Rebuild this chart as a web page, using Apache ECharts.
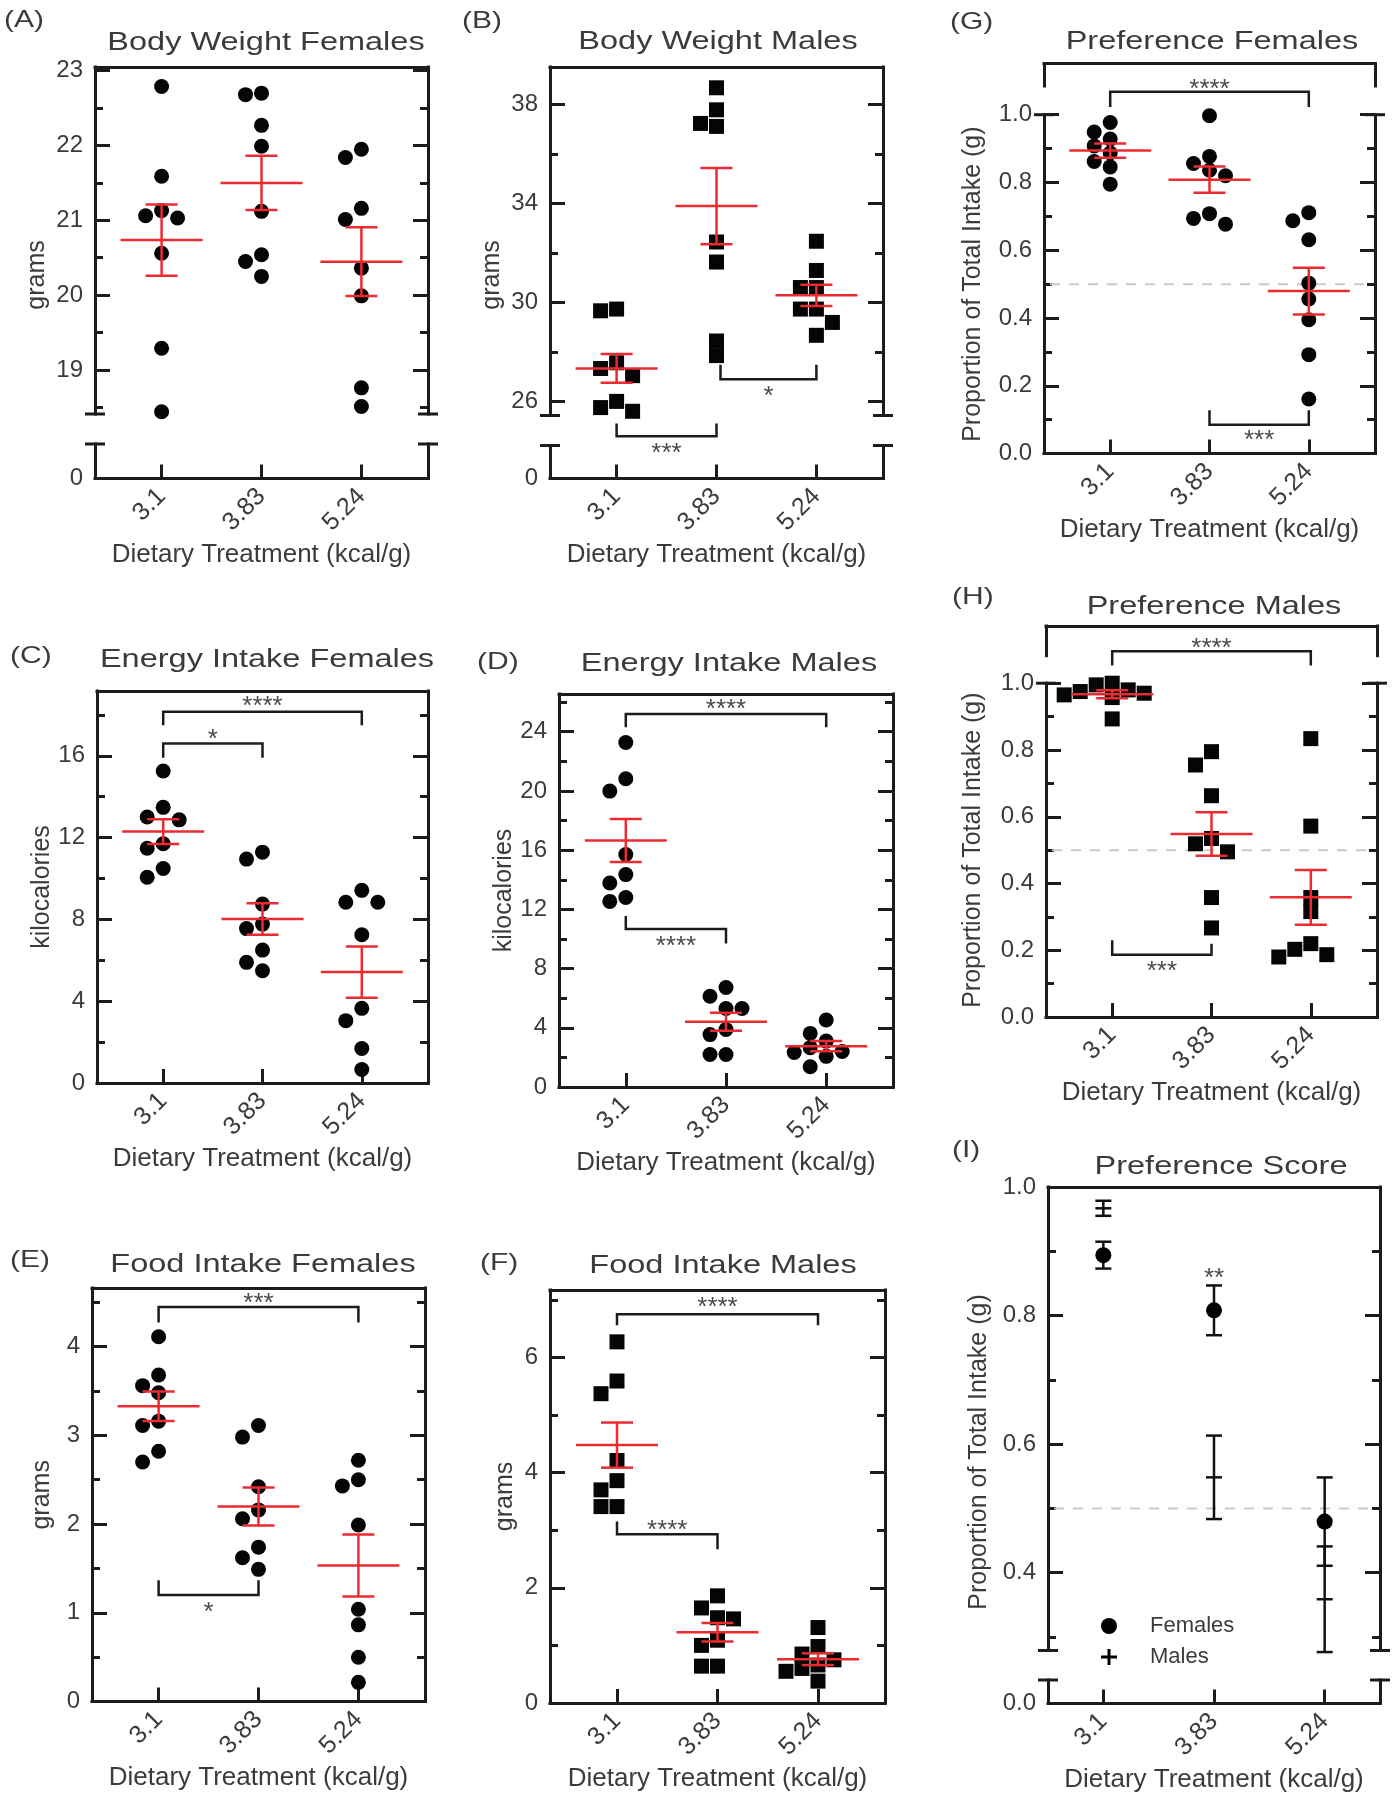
<!DOCTYPE html>
<html><head><meta charset="utf-8">
<script src="https://cdn.jsdelivr.net/npm/echarts@6/dist/echarts.min.js"></script>
<style>html,body{margin:0;padding:0;background:#fff}#c{width:1392px;height:1800px}</style>
</head><body><div id="c"></div>
<script>
// ---------------- DATA ----------------
const categories = ['3.1', '3.83', '5.24'];
const xAxisName = 'Dietary Treatment (kcal/g)';

// (A) Body weight females, grams
const bodyWeightFemales = [
  [22.79, 21.59, 21.13, 21.03, 21.06, 20.56, 19.29, 18.44],
  [22.70, 22.68, 22.27, 21.99, 21.12, 20.54, 20.45, 20.25],
  [21.84, 21.95, 21.16, 21.01, 20.36, 19.99, 18.76, 18.51]
];
// (B) Body weight males, grams
const bodyWeightMales = [
  [29.66, 29.73, 27.56, 27.33, 27.04, 26.00, 25.60, 25.75],
  [38.67, 37.78, 37.11, 37.23, 32.44, 31.63, 27.85, 28.44],
  [32.47, 31.29, 30.60, 30.60, 29.73, 29.73, 29.19, 28.67]
];
// (C) Energy intake females, kcal
const energyFemales = [
  [15.26, 13.48, 13.01, 12.87, 11.70, 11.48, 10.49, 10.06],
  [11.29, 10.95, 8.75, 7.55, 7.77, 6.50, 5.90, 5.49],
  [9.42, 8.84, 8.84, 7.25, 3.65, 3.05, 1.69, 0.66]
];
// (D) Energy intake males, kcal
const energyMales = [
  [23.27, 20.82, 19.99, 15.71, 14.35, 13.78, 12.80, 12.54],
  [6.72, 6.13, 5.30, 5.30, 3.88, 3.54, 2.20, 2.20],
  [4.53, 3.62, 3.10, 2.66, 2.40, 2.07, 2.33, 1.37]
];
// (E) Food intake females, grams
const foodFemales = [
  [4.11, 3.68, 3.56, 3.48, 3.16, 3.11, 2.82, 2.70],
  [3.11, 2.98, 2.42, 2.16, 2.06, 1.74, 1.62, 1.49],
  [2.72, 2.50, 2.43, 1.99, 1.04, 0.865, 0.50, 0.217]
];
// (F) Food intake males, grams
const foodMales = [
  [6.27, 5.59, 5.37, 4.21, 3.86, 3.70, 3.41, 3.41],
  [1.86, 1.65, 1.46, 1.48, 1.09, 1.00, 0.64, 0.64],
  [1.31, 0.98, 0.85, 0.75, 0.66, 0.60, 0.55, 0.38]
];
// (G) Preference females, proportion of total intake
const preferenceFemales = [
  [0.977, 0.949, 0.928, 0.908, 0.887, 0.862, 0.846, 0.795],
  [0.997, 0.877, 0.856, 0.836, 0.820, 0.677, 0.708, 0.694],
  [0.711, 0.687, 0.631, 0.503, 0.456, 0.395, 0.292, 0.161]
];
// (H) Preference males, proportion of total intake
const preferenceMales = [
  [0.995, 0.970, 1.000, 0.980, 0.957, 0.975, 0.965, 0.893],
  [0.795, 0.755, 0.663, 0.535, 0.495, 0.519, 0.358, 0.267],
  [0.834, 0.572, 0.358, 0.316, 0.203, 0.187, 0.220, 0.180]
];

// tick labels / tick values
const yLabelsA = [19, 20, 21, 22, 23];          const yMinorA = [18.5, 19.5, 20.5, 21.5, 22.5];
const yLabelsB = [26, 30, 34, 38];              const yMinorB = [28, 32, 36];
const yLabelsC = [0, 4, 8, 12, 16];             const yMinorC = [2, 6, 10, 14, 18];
const yLabelsD = [0, 4, 8, 12, 16, 20, 24];     const yMinorD = [2, 6, 10, 14, 18, 22, 26];
const yLabelsE = [0, 1, 2, 3, 4];               const yMinorE = [0.5, 1.5, 2.5, 3.5, 4.5];
const yLabelsF = [0, 2, 4, 6];                  const yMinorF = [1, 3, 5, 7];
const yLabelsPref = [0, 0.2, 0.4, 0.6, 0.8, 1.0]; const yMinorPref = [0.1, 0.3, 0.5, 0.7, 0.9];
const yLabelsI = [0.4, 0.6, 0.8, 1.0];          const yMinorI = [0.3, 0.5, 0.7, 0.9];
const zeroLabel = [0];
const chanceLevel = 0.5;

// significance annotations (data units of each panel)
const sigB = [
  {from: 0, to: 1, y: 24.59, tips: [25.11, 25.11], label: '***', labelY: 24.07},
  {from: 1.04, to: 2, y: 26.89, tips: [27.48, 27.48], label: '*', labelY: 26.37}
];
const sigC = [
  {from: 0, to: 2, y: 18.16, tips: [17.5, 17.5], label: '****', labelY: 18.63},
  {from: 0, to: 1, y: 16.6, tips: [15.9, 15.9], label: '*', labelY: 17.04}
];
const sigD = [
  {from: 0, to: 2, y: 25.2, tips: [24.3, 24.3], label: '****', labelY: 25.8},
  {from: 0, to: 1, y: 10.68, tips: [11.56, 9.7], label: '****', labelY: 9.83}
];
const sigE = [
  {from: 0, to: 2, y: 4.447, tips: [4.27, 4.27], label: '***', labelY: 4.54},
  {from: 0, to: 1, y: 1.2, tips: [1.367, 1.367], label: '*', labelY: 1.053}
];
const sigF = [
  {from: 0, to: 2, y: 6.75, tips: [6.56, 6.56], label: '****', labelY: 6.95},
  {from: 0, to: 1, y: 2.93, tips: [3.15, 2.67], label: '****', labelY: 3.07}
];
const sigG = [
  {from: 0, to: 2, y: 1.0676, tips: [1.023, 1.023], label: '****', labelY: 1.087},
  {from: 1, to: 2, y: 0.085, tips: [0.128, 0.128], label: '***', labelY: 0.051}
];
const sigH = [
  {from: 0, to: 2, y: 1.096, tips: [1.053, 1.053], label: '****', labelY: 1.118},
  {from: 0, to: 1, y: 0.187, tips: [0.23, 0.22], label: '***', labelY: 0.15}
];
const sigI = [{at: 1, labelY: 0.865, label: '**'}];

// ---------------- STYLE ----------------
const LINE = '#1c1c1c', TEXT = '#3b3b3b', RED = '#ec2b30', DOT = '#050505';
const FONT = "'Liberation Sans', Arial, sans-serif";
const LW = 3;
const X3 = [-2 / 3, 8 / 3];
const fmtInt = v => String(Math.round(v * 100) / 100);
const fmt1 = v => v.toFixed(1);

// ---------------- HELPERS ----------------
function meanSem(a) {
  const n = a.length;
  const m = a.reduce((s, v) => s + v, 0) / n;
  const sd = Math.sqrt(a.reduce((s, v) => s + (v - m) * (v - m), 0) / (n - 1));
  return [m, sd / Math.sqrt(n)];
}
// simple beeswarm: horizontal pixel offsets so that dots do not overlap
function swarmOffsets(vals, pxPerUnit, sym) {
  const order = vals.map((v, i) => i).sort((a, b) => vals[b] - vals[a]);
  const placed = [], out = new Array(vals.length).fill(0);
  const step = sym + 1, thr = sym * 0.92;
  const cands = [0, -1, 1, -2, 2, -3, 3, -4, 4];
  for (const i of order) {
    const y = vals[i] * pxPerUnit;
    for (const c of cands) {
      const x = c * step;
      if (placed.every(p => Math.hypot(p.x - x, p.y - y) >= thr)) { out[i] = x; placed.push({x, y}); break; }
    }
  }
  return out;
}
function semRenderer(color, half, cap, lw) {
  return function (params, api) {
    const x = api.value(0), m = api.value(1), se = api.value(2);
    const c = api.coord([x, m]), hi = api.coord([x, m + se]), lo = api.coord([x, m - se]);
    const st = {stroke: color, lineWidth: lw};
    const ch = [
      {type: 'line', shape: {x1: c[0], y1: hi[1], x2: c[0], y2: lo[1]}, style: st},
      {type: 'line', shape: {x1: c[0] - cap, y1: hi[1], x2: c[0] + cap, y2: hi[1]}, style: st},
      {type: 'line', shape: {x1: c[0] - cap, y1: lo[1], x2: c[0] + cap, y2: lo[1]}, style: st}
    ];
    if (half > 0) ch.push({type: 'line', shape: {x1: c[0] - half, y1: c[1], x2: c[0] + half, y2: c[1]}, style: st});
    return {type: 'group', children: ch};
  };
}
function decorRenderer(items, P) {
  return function (params, api) {
    const it = items[params.dataIndex];
    if (it.kind === 'break') {
      const p = api.coord([it.side ? P.xr[1] : P.xr[0], it.y]);
      return {type: 'line', shape: {x1: p[0] - 10, y1: p[1], x2: p[0] + 10, y2: p[1]}, style: {stroke: LINE, lineWidth: LW}};
    }
    if (it.kind === 'dash') {
      const a = api.coord([P.xr[0], it.y]), b = api.coord([P.xr[1], it.y]);
      return {type: 'line', shape: {x1: a[0] + 6, y1: a[1], x2: b[0] - 4, y2: b[1]},
        style: {stroke: '#c9c9c9', lineWidth: 2, lineDash: [10, 9]}};
    }
    if (it.kind === 'bracket') {
      const p0 = api.coord([it.from, it.tips[0]]), p1 = api.coord([it.from, it.y]);
      const p2 = api.coord([it.to, it.y]), p3 = api.coord([it.to, it.tips[1]]);
      const t = api.coord([(it.from + it.to) / 2, it.labelY]);
      return {type: 'group', children: [
        {type: 'polyline', shape: {points: [p0, p1, p2, p3]}, style: {stroke: LINE, lineWidth: 2.5, fill: 'none'}},
        {type: 'text', x: t[0], y: t[1] + 5, style: {text: it.label, fill: '#4a4a4a', font: '26px ' + FONT, align: 'center', verticalAlign: 'middle'}}
      ]};
    }
    if (it.kind === 'label') {
      const t = api.coord([it.at, it.labelY]);
      return {type: 'text', x: t[0], y: t[1] + 5, style: {text: it.label, fill: '#4a4a4a', font: '26px ' + FONT, align: 'center', verticalAlign: 'middle'}};
    }
    return null;
  };
}

const option = {
  animation: false, backgroundColor: '#fff',
  grid: [], xAxis: [], yAxis: [], series: [], graphic: [],
  legend: {
    data: [
      {name: 'Females', icon: 'circle'},
      {name: 'Males', icon: 'path://M6.5,0H9.5V6.5H16V9.5H9.5V16H6.5V9.5H0V6.5H6.5Z'}
    ],
    orient: 'vertical', left: 1096, top: 1610, itemWidth: 16, itemHeight: 16, itemGap: 9,
    selectedMode: false, itemStyle: {color: '#000', opacity: 1},
    textStyle: {color: TEXT, fontSize: 22, fontFamily: FONT, padding: [0, 0, 0, 28]}
  }
};

function buildSeg(P, s) {
  const gi = option.grid.length;
  option.grid.push({left: P.l, top: s.top, width: P.r - P.l, height: s.bottom - s.top});
  const line = {color: LINE, width: LW, cap: 'square'};
  const tickLine = {color: LINE, width: LW};
  const xi = option.xAxis.length;
  const ax = {type: 'value', gridIndex: gi, min: P.xr[0], max: P.xr[1], splitLine: {show: false}};
  option.xAxis.push(Object.assign({}, ax, {
    position: 'bottom',
    axisLine: {show: !!s.bottomLine, onZero: false, lineStyle: line},
    axisTick: {show: !!s.bottomAxis, inside: true, length: 14, customValues: [0, 1, 2], lineStyle: tickLine},
    axisLabel: {show: !!s.bottomAxis, customValues: [0, 1, 2], rotate: 45, margin: 14, color: TEXT,
      fontFamily: FONT, fontSize: 25, formatter: v => categories[Math.round(v)]},
    name: s.bottomAxis ? xAxisName : '', nameLocation: 'middle', nameGap: 63,
    nameTextStyle: {color: TEXT, fontFamily: FONT, fontSize: 26}
  }));
  option.xAxis.push(Object.assign({}, ax, {
    position: 'top', axisLine: {show: !!s.topLine, onZero: false, lineStyle: line},
    axisTick: {show: false}, axisLabel: {show: false}
  }));
  const yi = option.yAxis.length;
  const ay = {type: 'value', gridIndex: gi, min: s.min, max: s.max, splitLine: {show: false}};
  const lab = s.labels || [], maj = s.major || [], mnr = s.minor || [];
  const tick = (vals, len) => vals.length ? {show: true, inside: true, length: len, customValues: vals, lineStyle: tickLine} : {show: false};
  const left = Object.assign({}, ay, {
    position: 'left', axisLine: {show: true, onZero: false, lineStyle: line},
    axisTick: tick(maj, 15),
    axisLabel: lab.length ? {show: true, customValues: lab, margin: 12, color: TEXT, fontFamily: FONT, fontSize: 24, formatter: P.fmt} : {show: false}
  });
  if (s.yName) {
    Object.assign(left, {name: s.yName, nameLocation: 'middle', nameGap: s.yGap, nameRotate: 90,
      nameTextStyle: {color: TEXT, fontFamily: FONT, fontSize: 25}});
  }
  option.yAxis.push(left);
  option.yAxis.push(Object.assign({}, ay, {position: 'left', axisLine: {show: false, onZero: false}, axisTick: tick(mnr, 8), axisLabel: {show: false}}));
  option.yAxis.push(Object.assign({}, ay, {position: 'right', axisLine: {show: true, onZero: false, lineStyle: line}, axisTick: tick(maj, 15), axisLabel: {show: false}}));
  option.yAxis.push(Object.assign({}, ay, {position: 'right', axisLine: {show: false, onZero: false}, axisTick: tick(mnr, 8), axisLabel: {show: false}}));
  s.gi = gi; s.xi = xi; s.yi = yi;

  // break marks on this segment
  const items = [];
  (s.breaks || []).forEach(b => {
    const y = b === 'top' ? s.max : s.min;
    items.push({kind: 'break', side: 0, y}, {kind: 'break', side: 1, y});
  });
  if (items.length) addDecor(P, s, items, 6);
}
function addDecor(P, s, items, z) {
  option.series.push({
    type: 'custom', xAxisIndex: s.xi, yAxisIndex: s.yi, z, silent: true, clip: false,
    data: items.map(() => [0, 0]), renderItem: decorRenderer(items, P)
  });
}
function buildPanel(P) {
  P.segs.forEach(s => buildSeg(P, s));
  const m = P.segs.find(s => s.main);
  if (P.dash != null) addDecor(P, m, [{kind: 'dash', y: P.dash}], 1);
  if (P.values) {
    const xPerPx = (P.xr[1] - P.xr[0]) / (P.r - P.l);
    const pxPerUnit = (m.bottom - m.top) / (m.max - m.min);
    const pts = [];
    P.values.forEach((grp, ci) => {
      const offs = swarmOffsets(grp, pxPerUnit, P.size);
      grp.forEach((v, k) => pts.push([ci + offs[k] * xPerPx, v]));
    });
    option.series.push({type: 'scatter', xAxisIndex: m.xi, yAxisIndex: m.yi, symbol: P.symbol, symbolSize: P.size,
      itemStyle: {color: DOT, opacity: 1}, data: pts, z: 3, silent: true});
    option.series.push({type: 'custom', xAxisIndex: m.xi, yAxisIndex: m.yi, z: 5, silent: true, clip: false,
      data: P.values.map((g, ci) => [ci].concat(meanSem(g))), renderItem: semRenderer(RED, 41, 16, 2.5)});
  }
  if (P.sig && P.sig.length) addDecor(P, m, P.sig.map(b => Object.assign({kind: b.from != null ? 'bracket' : 'label'}, b)), 6);
  // title & panel letter
  option.graphic.push({type: 'text', x: P.tc[0], y: P.tc[1], scaleX: 1.3, silent: true,
    style: {text: P.title, fill: TEXT, font: '25px ' + FONT, align: 'center', verticalAlign: 'middle'}});
  option.graphic.push({type: 'text', x: P.lc[0], y: P.lc[1], scaleX: 1.25, silent: true,
    style: {text: P.letter, fill: TEXT, font: '24px ' + FONT, align: 'left', verticalAlign: 'middle'}});
  if (P.yNamePos) {
    option.graphic.push({type: 'text', x: P.yNamePos[0], y: P.yNamePos[1], rotation: Math.PI / 2, silent: true,
      style: {text: P.yName, fill: TEXT, font: '25px ' + FONT, align: 'center', verticalAlign: 'middle'}});
  }
  return m;
}

// ---------------- PANELS (layout) ----------------
buildPanel({l: 95, r: 428, xr: X3, values: bodyWeightFemales, symbol: 'circle', size: 15, fmt: fmtInt,
  title: 'Body Weight Females', tc: [266, 43], letter: '(A)', lc: [4, 20], yName: 'grams', yNamePos: [37, 275],
  segs: [
    {top: 67, bottom: 414, min: 18.41, max: 23.05, labels: yLabelsA, major: yLabelsA, minor: yMinorA, topLine: true, main: true, breaks: ['bottom']},
    {top: 444, bottom: 478.5, min: 0, max: 0.461, labels: zeroLabel, bottomLine: true, bottomAxis: true, breaks: ['top']}
  ]});
buildPanel({l: 550, r: 883, xr: X3, values: bodyWeightMales, symbol: 'rect', size: 15, fmt: fmtInt, sig: sigB,
  title: 'Body Weight Males', tc: [718, 42.5], letter: '(B)', lc: [462, 21], yName: 'grams', yNamePos: [492, 275],
  segs: [
    {top: 67, bottom: 415.5, min: 25.43, max: 39.51, labels: yLabelsB, major: yLabelsB, minor: yMinorB, topLine: true, main: true, breaks: ['bottom']},
    {top: 445.5, bottom: 478.5, min: 0, max: 1.33, labels: zeroLabel, bottomLine: true, bottomAxis: true, breaks: ['top']}
  ]});
buildPanel({l: 1044, r: 1375, xr: X3, values: preferenceFemales, symbol: 'circle', size: 15, fmt: fmt1, sig: sigG, dash: chanceLevel,
  title: 'Preference Females', tc: [1212, 42], letter: '(G)', lc: [950, 22],
  segs: [
    {top: 114.7, bottom: 453.6, min: 0, max: 1, labels: yLabelsPref, major: yLabelsPref, minor: yMinorPref, bottomLine: true, bottomAxis: true,
      main: true, breaks: ['top'], yName: 'Proportion of Total Intake (g)', yGap: 58},
    {top: 63.6, bottom: 86, min: 1.085, max: 1.151, topLine: true}
  ]});
buildPanel({l: 97, r: 428, xr: X3, values: energyFemales, symbol: 'circle', size: 15, fmt: fmtInt, sig: sigC,
  title: 'Energy Intake Females', tc: [267, 660], letter: '(C)', lc: [10, 656],
  segs: [{top: 691, bottom: 1083, min: 0, max: 19.17, labels: yLabelsC, major: yLabelsC, minor: yMinorC, topLine: true, bottomLine: true,
    bottomAxis: true, main: true, yName: 'kilocalories', yGap: 38}]});
buildPanel({l: 559, r: 893, xr: X3, values: energyMales, symbol: 'circle', size: 15, fmt: fmtInt, sig: sigD,
  title: 'Energy Intake Males', tc: [729, 664], letter: '(D)', lc: [477, 662],
  segs: [{top: 694, bottom: 1087, min: 0, max: 26.55, labels: yLabelsD, major: yLabelsD, minor: yMinorD, topLine: true, bottomLine: true,
    bottomAxis: true, main: true, yName: 'kilocalories', yGap: 42}]});
buildPanel({l: 1046, r: 1377, xr: X3, values: preferenceMales, symbol: 'rect', size: 15, fmt: fmt1, sig: sigH, dash: chanceLevel,
  title: 'Preference Males', tc: [1214, 607], letter: '(H)', lc: [952, 597],
  segs: [
    {top: 683.2, bottom: 1017.1, min: 0, max: 1, labels: yLabelsPref, major: yLabelsPref, minor: yMinorPref, bottomLine: true, bottomAxis: true,
      main: true, breaks: ['top'], yName: 'Proportion of Total Intake (g)', yGap: 60},
    {top: 626, bottom: 655.7, min: 1.082, max: 1.171, topLine: true}
  ]});
buildPanel({l: 92, r: 425, xr: X3, values: foodFemales, symbol: 'circle', size: 15, fmt: fmtInt, sig: sigE,
  title: 'Food Intake Females', tc: [263, 1265], letter: '(E)', lc: [10, 1260],
  segs: [{top: 1288, bottom: 1701.6, min: 0, max: 4.66, labels: yLabelsE, major: yLabelsE, minor: yMinorE, topLine: true, bottomLine: true,
    bottomAxis: true, main: true, yName: 'grams', yGap: 37}]});
buildPanel({l: 550, r: 885, xr: X3, values: foodMales, symbol: 'rect', size: 15, fmt: fmtInt, sig: sigF,
  title: 'Food Intake Males', tc: [723, 1266], letter: '(F)', lc: [480, 1263],
  segs: [{top: 1290, bottom: 1703, min: 0, max: 7.17, labels: yLabelsF, major: yLabelsF, minor: yMinorF, topLine: true, bottomLine: true,
    bottomAxis: true, main: true, yName: 'grams', yGap: 32}]});

// (I) Preference score: mean ± SEM of G and H
const mI = buildPanel({l: 1048, r: 1380, xr: [-0.5, 2.5], fmt: fmt1, sig: sigI, dash: chanceLevel,
  title: 'Preference Score', tc: [1221, 1167], letter: '(I)', lc: [952, 1150], yName: 'Proportion of Total Intake (g)', yNamePos: [979, 1452],
  segs: [
    {top: 1187, bottom: 1650.5, min: 0.279, max: 1, labels: yLabelsI, major: yLabelsI, minor: yMinorI, topLine: true, main: true, breaks: ['bottom']},
    {top: 1680, bottom: 1703.5, min: 0, max: 0.0366, labels: zeroLabel, bottomLine: true, bottomAxis: true, breaks: ['top']}
  ]});
const femStats = preferenceFemales.map((g, i) => [i].concat(meanSem(g)));
const maleStats = preferenceMales.map((g, i) => [i].concat(meanSem(g)));
option.series.push({name: 'Females', type: 'custom', xAxisIndex: mI.xi, yAxisIndex: mI.yi, z: 4, clip: false, silent: true,
  itemStyle: {color: '#000'}, data: femStats, renderItem: semRenderer('#111', 0, 8, 2.5)});
option.series.push({name: 'Females', type: 'scatter', xAxisIndex: mI.xi, yAxisIndex: mI.yi, z: 5, silent: true,
  symbol: 'circle', symbolSize: 16, itemStyle: {color: '#000', opacity: 1}, data: femStats.map(d => [d[0], d[1]])});
option.series.push({name: 'Males', type: 'custom', xAxisIndex: mI.xi, yAxisIndex: mI.yi, z: 4, clip: false, silent: true,
  itemStyle: {color: '#000'}, data: maleStats, renderItem: semRenderer('#111', 8, 8, 2.5)});

const chart = echarts.init(document.getElementById('c'), null, {renderer: 'canvas', width: 1392, height: 1800});
chart.setOption(option);
</script>
</body></html>
